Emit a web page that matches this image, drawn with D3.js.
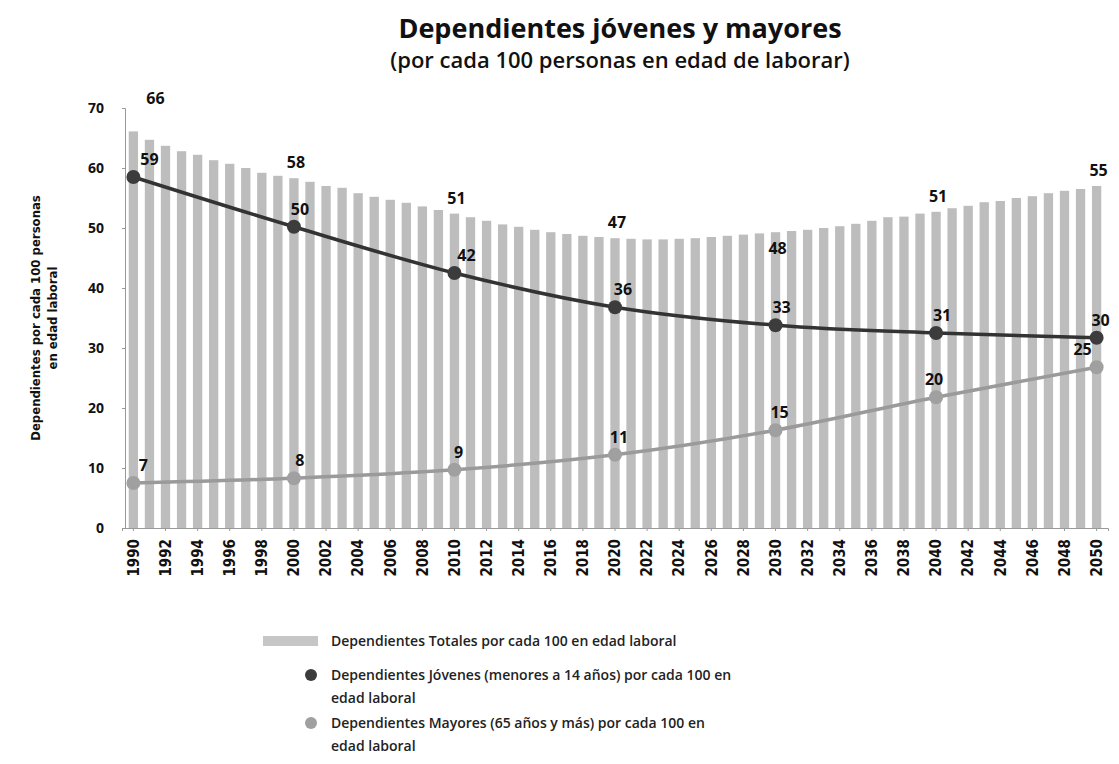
<!DOCTYPE html>
<html>
<head>
<meta charset="UTF-8">
<title>Dependientes jóvenes y mayores</title>
<script src="https://d3js.org/d3.v7.min.js"></script>
<style>
  body { margin: 0; background: #fff; }
</style>
</head>
<body>
<svg id="chart"></svg>
<script>
// data
const years = d3.range(1990, 2051);
const totales = [66.1, 64.7, 63.7, 62.8, 62.2, 61.3, 60.7, 60.0, 59.2, 58.7,
                 58.3, 57.7, 57.0, 56.7, 55.8, 55.2, 54.7, 54.2, 53.6, 53.0,
                 52.4, 51.8, 51.2, 50.6, 50.2, 49.7, 49.3, 49.0, 48.7, 48.5,
                 48.3, 48.2, 48.1, 48.1, 48.2, 48.3, 48.5, 48.7, 48.9, 49.1,
                 49.3, 49.5, 49.7, 50.0, 50.3, 50.7, 51.2, 51.8, 51.9, 52.4,
                 52.7, 53.3, 53.7, 54.3, 54.5, 55.0, 55.3, 55.8, 56.2, 56.5, 57.0];
const decades = [1990, 2000, 2010, 2020, 2030, 2040, 2050];
const jovenes = [58.5, 50.2, 42.5, 36.8, 33.8, 32.5, 31.7];
const mayores = [7.5, 8.3, 9.7, 12.2, 16.3, 21.8, 26.8];
const totalLabels = [66, 58, 51, 47, 48, 51, 55];
const jovenLabels = [59, 50, 42, 36, 33, 31, 30];
const mayorLabels = [7, 8, 9, 11, 15, 20, 25];
const yTicks = [0, 10, 20, 30, 40, 50, 60, 70];

const width = 1119, height = 764;
const sans = "Open Sans", narrow = "DejaVu Sans Condensed, DejaVu Sans";
const svg = d3.select("#chart").attr("width", width).attr("height", height)
  .attr("font-family", sans);

const x = d3.scaleBand().domain(years).range([122, 1108]).padding(0.42);
const xc = d => x(d) + x.bandwidth() / 2;
const y = d3.scaleLinear().domain([0, 70]).range([528, 108]);

// title
svg.append("text").attr("x", 620).attr("y", 38).attr("text-anchor", "middle")
  .attr("font-size", "27px").attr("font-weight", 700).attr("fill", "#111")
  .text("Dependientes jóvenes y mayores");
svg.append("text").attr("x", 620).attr("y", 68).attr("text-anchor", "middle")
  .attr("font-size", "22px").attr("font-weight", 600).attr("fill", "#111")
  .text("(por cada 100 personas en edad de laborar)");

// bars
svg.append("g").selectAll("rect")
  .data(years)
  .join("rect")
  .attr("x", d => x(d))
  .attr("width", x.bandwidth())
  .attr("y", (d, i) => y(totales[i]))
  .attr("height", (d, i) => y(0) - y(totales[i]))
  .attr("fill", "#bdbdbd");

// axes
svg.append("g")
  .attr("transform", "translate(125,0)")
  .call(d3.axisLeft(y).tickValues(yTicks).tickSize(3).tickPadding(18))
  .call(g => g.select(".domain").attr("stroke", "#999"))
  .call(g => g.selectAll(".tick line").attr("stroke", "#999"))
  .call(g => g.selectAll("text").attr("font-size", "14px").attr("font-weight", 700)
    .attr("fill", "#111").attr("font-family", sans));

svg.append("g")
  .attr("transform", `translate(0,${y(0)})`)
  .call(d3.axisBottom(x).tickValues(years.filter(d => d % 2 === 0)).tickSize(3))
  .call(g => g.select(".domain").attr("stroke", "#999"))
  .call(g => g.selectAll(".tick line").attr("stroke", "#999"))
  .call(g => g.selectAll("text")
    .attr("transform", "rotate(-90)")
    .attr("text-anchor", "end")
    .attr("x", -11).attr("y", 0).attr("dy", "0.35em")
    .attr("font-size", "15px").attr("font-weight", 700).attr("fill", "#111")
    .attr("font-family", narrow));

// y axis title
const yt = svg.append("text")
  .attr("transform", "translate(40,318) rotate(-90)")
  .attr("text-anchor", "middle")
  .attr("font-family", narrow)
  .attr("font-size", "13px").attr("font-weight", 700).attr("fill", "#111");
yt.append("tspan").attr("x", 0).attr("dy", 0).text("Dependientes por cada 100 personas");
yt.append("tspan").attr("x", 0).attr("dy", 17).text("en edad laboral");

// lines
const line = d3.line().x(d => xc(d[0])).y(d => y(d[1])).curve(d3.curveMonotoneX);
const series = [
  { vals: jovenes, labels: jovenLabels, stroke: "#333", fill: "#3c3c3c", dx: [16, 6, 12, 8, 6, 6, 4] },
  { vals: mayores, labels: mayorLabels, stroke: "#9a9a9a", fill: "#a0a0a0", dx: [10, 6, 4, 4, 4, -2, -14] }
];
series.forEach(s => {
  const pts = decades.map((d, i) => [d, s.vals[i]]);
  svg.append("path").datum(pts)
    .attr("d", line).attr("fill", "none")
    .attr("stroke", s.stroke).attr("stroke-width", 3.5);
  svg.append("g").selectAll("circle").data(pts).join("circle")
    .attr("cx", d => xc(d[0])).attr("cy", d => y(d[1]))
    .attr("r", 7).attr("fill", s.fill);
  svg.append("g").selectAll("text").data(pts).join("text")
    .attr("x", (d, i) => xc(d[0]) + s.dx[i])
    .attr("y", d => y(d[1]) - 12)
    .attr("text-anchor", "middle")
    .attr("font-size", "16px").attr("font-weight", 700).attr("fill", "#111")
    .text((d, i) => s.labels[i]);
});

// total labels (the 1990 one sits higher, the 2030 one lower, as in the original)
const totalDy = { 1990: -27, 2030: 22 };
svg.append("g").selectAll("text").data(decades).join("text")
  .attr("x", (d, i) => xc(d) + (i === 0 ? 22 : 2))
  .attr("y", d => y(totales[years.indexOf(d)]) + (totalDy[d] ?? -10))
  .attr("text-anchor", "middle")
  .attr("font-size", "16px").attr("font-weight", 700).attr("fill", "#111")
  .text((d, i) => totalLabels[i]);

// legend
const legend = svg.append("g").attr("font-size", "14px").attr("font-weight", 600).attr("fill", "#222");
legend.append("rect").attr("x", 263).attr("y", 636).attr("width", 55).attr("height", 10).attr("fill", "#c6c6c6");
legend.append("text").attr("x", 331).attr("y", 646).text("Dependientes Totales por cada 100 en edad laboral");
legend.append("circle").attr("cx", 311).attr("cy", 675).attr("r", 6).attr("fill", "#3c3c3c");
const l2 = legend.append("text").attr("x", 331).attr("y", 680);
l2.append("tspan").attr("x", 331).text("Dependientes Jóvenes (menores a 14 años) por cada 100 en");
l2.append("tspan").attr("x", 331).attr("dy", 23).text("edad laboral");
legend.append("circle").attr("cx", 311).attr("cy", 723).attr("r", 6).attr("fill", "#a0a0a0");
const l3 = legend.append("text").attr("x", 331).attr("y", 728);
l3.append("tspan").attr("x", 331).text("Dependientes Mayores (65 años y más) por cada 100 en");
l3.append("tspan").attr("x", 331).attr("dy", 23).text("edad laboral");
</script>
</body>
</html>
